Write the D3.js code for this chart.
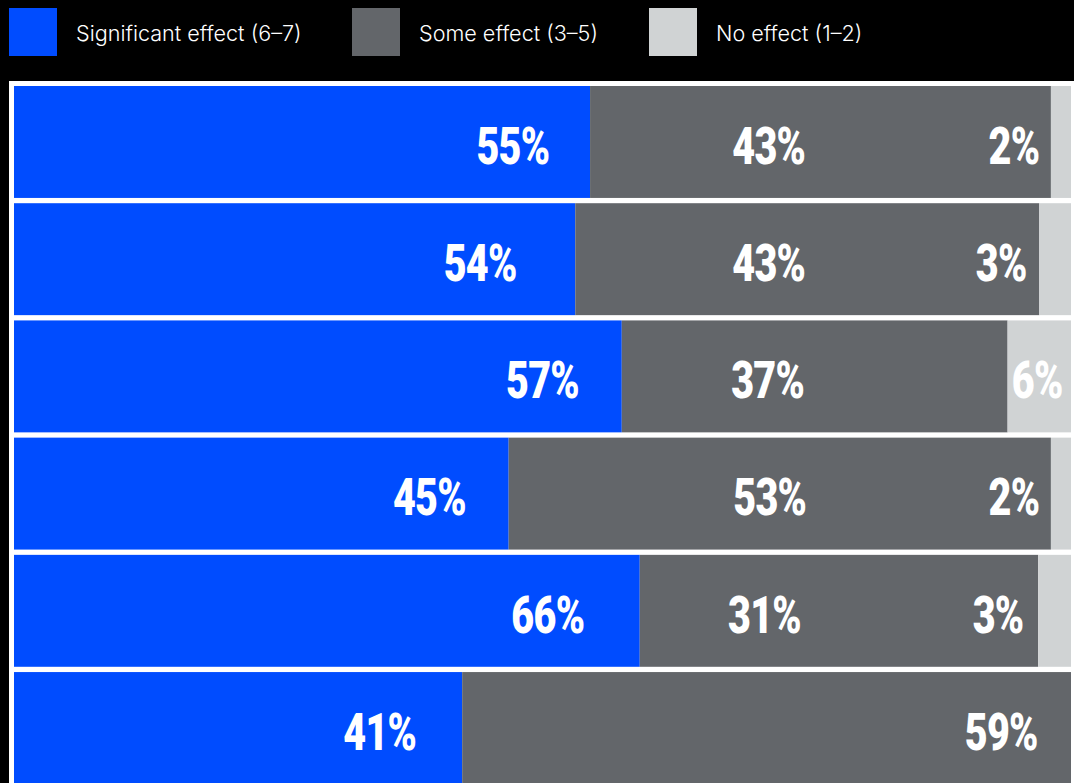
<!DOCTYPE html>
<html>
<head>
<meta charset="utf-8">
<script src="https://cdn.jsdelivr.net/npm/d3@7"></script>
<style>
  html, body { margin: 0; padding: 0; background: #000; }
  svg { display: block; }
</style>
</head>
<body>
<svg id="chart" width="1074" height="783"></svg>
<script>
// ---- data ----
const rows = ["Row 1", "Row 2", "Row 3", "Row 4", "Row 5", "Row 6"];
const seriesNames = ["Significant effect (6–7)", "Some effect (3–5)", "No effect (1–2)"];
// bar shares as drawn in the picture (percent)
const significant = [54.5, 53.1, 57.5, 46.8, 59.2, 42.4];
const some        = [43.6, 43.9, 36.5, 51.3, 37.7, 57.6];
const noEffect    = [1.9, 3.0, 6.0, 1.9, 3.1, 0];
// printed labels
const significantLabels = ["55%", "54%", "57%", "45%", "66%", "41%"];
const someLabels        = ["43%", "43%", "37%", "53%", "31%", "59%"];
const noEffectLabels    = ["2%", "3%", "6%", "2%", "3%", ""];

// label anchor positions (percent axis units, label centre)
const significantLabelAt = [47.2, 44.1, 50.0, 39.3, 50.5, 34.6];
const someLabelAt        = [71.4, 71.4, 71.3, 71.5, 71.0, 93.4];
const noEffectLabelAt    = [94.6, 93.4, 96.8, 94.6, 93.1, 0];

const colors = ["#004cff", "#63666a", "#d0d3d4"];

// ---- drawing ----
const W = 1074, H = 783;
const svg = d3.select("#chart");

svg.append("rect").attr("x", 0).attr("y", 0).attr("width", W).attr("height", H).attr("fill", "#000");
svg.append("rect").attr("x", 9).attr("y", 81).attr("width", W - 9).attr("height", H - 81).attr("fill", "#fff");

const x = d3.scaleLinear().domain([0, 100]).range([14, 1071]);
const y = d3.scaleBand().domain(rows).range([86, 784]).paddingInner(0.045).paddingOuter(0);

const table = rows.map((r, i) => ({
  row: r,
  sig: significant[i], some: some[i], none: noEffect[i]
}));
const stack = d3.stack().keys(["sig", "some", "none"]);
const layers = stack(table);

svg.append("g").selectAll("g")
  .data(layers)
  .join("g")
  .attr("fill", (d, i) => colors[i])
  .selectAll("rect")
  .data(d => d)
  .join("rect")
  .attr("x", d => x(d[0]))
  .attr("y", d => y(d.data.row))
  .attr("width", d => Math.max(0, x(d[1]) - x(d[0])))
  .attr("height", y.bandwidth());

// value labels
const labelSets = [
  [significantLabels, significantLabelAt],
  [someLabels, someLabelAt],
  [noEffectLabels, noEffectLabelAt]
];
const lg = svg.append("g");
labelSets.forEach(([labels, at]) => {
  rows.forEach((r, i) => {
    if (!labels[i]) return;
    const g = lg.append("g")
      .attr("transform", `translate(${x(at[i])},${y(r) + y.bandwidth() * 0.695}) scale(0.76,1)`);
    g.append("text")
      .attr("text-anchor", "middle")
      .attr("fill", "#fff")
      .attr("font-family", "Roboto, 'DejaVu Sans', sans-serif")
      .attr("font-weight", 900)
      .attr("font-size", 52)
      .attr("letter-spacing", -1)
      .text(labels[i]);
  });
});

// legend
const legendX = [9, 352, 649];
const legend = svg.append("g");
seriesNames.forEach((name, i) => {
  legend.append("rect")
    .attr("x", legendX[i]).attr("y", 8)
    .attr("width", 48).attr("height", 48)
    .attr("fill", colors[i]);
  legend.append("text")
    .attr("x", legendX[i] + 67).attr("y", 41)
    .attr("fill", "#fff")
    .attr("font-family", "Inter, 'Open Sans', sans-serif")
    .attr("font-weight", 300)
    .attr("font-size", 21.6)
    .text(name);
});
</script>
</body>
</html>
